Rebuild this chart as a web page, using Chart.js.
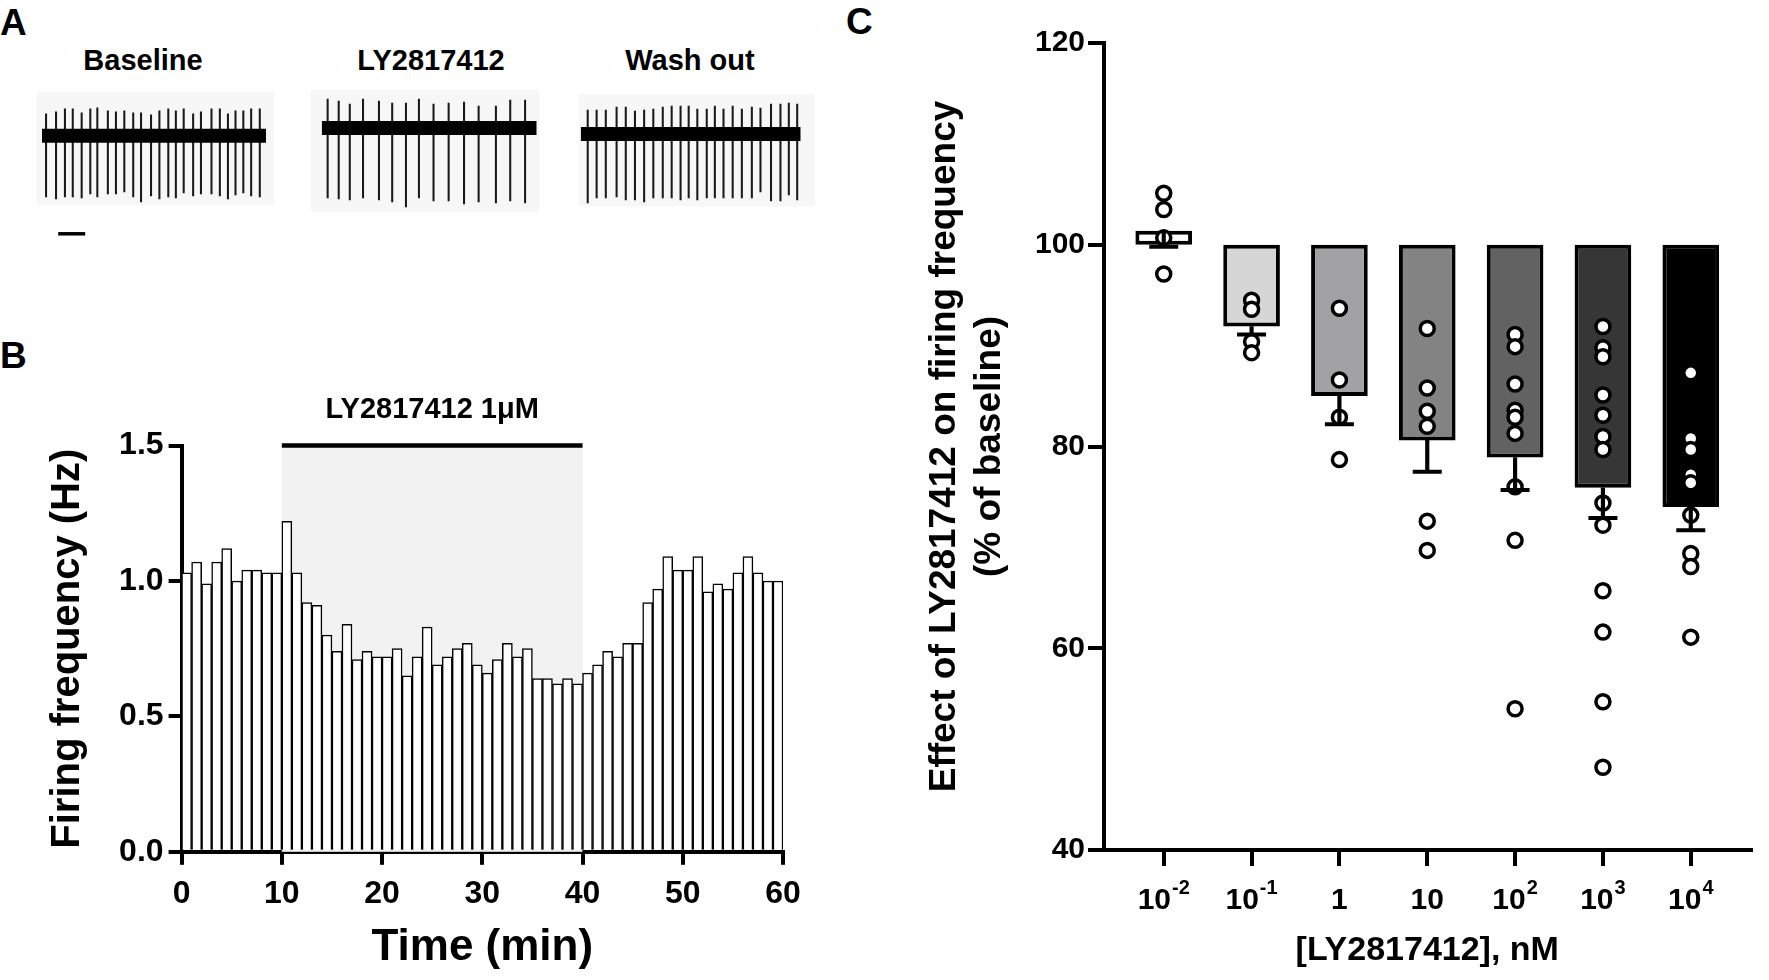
<!DOCTYPE html>
<html>
<head>
<meta charset="utf-8">
<script src="https://cdn.jsdelivr.net/npm/chart.js@4.4.1/dist/chart.umd.min.js"></script>
<style>
  body { margin: 0; width: 1769px; height: 980px; background: #fff; position: relative; overflow: hidden;
         font-family: 'Liberation Sans', Arial, sans-serif; font-weight: bold; color: #000; }
  canvas, .lbl, .ttl, .bg { position: absolute; }
  .lbl { font-size: 37px; line-height: 1; }
  .ttl { font-size: 29px; line-height: 1; white-space: nowrap; transform: translateX(-50%); }
  .bg { background: #f7f7f7; }
</style>
</head>
<body>
<div class="lbl" style="left:0;top:4px">A</div>
<div class="lbl" style="left:0;top:337px">B</div>
<div class="lbl" style="left:846px;top:3px">C</div>

<div class="ttl" style="left:143px;top:46px">Baseline</div>
<div class="ttl" style="left:431px;top:46px">LY2817412</div>
<div class="ttl" style="left:690px;top:46px">Wash out</div>

<div class="bg" style="left:37px;top:92px;width:237px;height:113px"></div>
<div class="bg" style="left:311px;top:90px;width:228px;height:122px"></div>
<div class="bg" style="left:579px;top:94px;width:236px;height:112px"></div>
<canvas id="trBase" width="237" height="150" style="left:37px;top:92px"></canvas>
<canvas id="trDrug" width="228" height="122" style="left:311px;top:90px"></canvas>
<canvas id="trWash" width="236" height="124" style="left:579px;top:94px"></canvas>

<canvas id="histB" width="820" height="650" style="left:0;top:330px"></canvas>
<canvas id="doseC" width="949" height="980" style="left:820px;top:0"></canvas>

<script>
const FONT = "'Liberation Sans', Arial, sans-serif";
Chart.defaults.font.family = FONT;
Chart.defaults.font.weight = 'bold';
Chart.defaults.color = '#000';

// ---- panel A: example spike trains (time in s, spike amplitude above / below the noise band)
const baselineSpikeT = [0.15, 0.52, 0.85, 1.14, 1.47, 1.79, 2.05, 2.44, 2.74, 3.05, 3.38, 3.67, 4.04,
  4.35, 4.68, 4.96, 5.25, 5.60, 5.89, 6.28, 6.59, 6.89, 7.17, 7.46, 7.75, 8.07];
const baselineUp = [22, 24, 27, 27, 23, 27, 28, 25, 24, 25, 23, 23, 21, 25, 27, 25, 27, 22, 24, 27, 27, 22, 25, 25, 27, 27];
const baselineDown = [61, 63, 61, 61, 62, 58, 61, 58, 58, 56, 61, 66, 60, 63, 61, 62, 57, 60, 58, 58, 60, 63, 59, 57, 60, 61];
const baselineLen = 8.3;

const drugSpikeT = [0.22, 0.63, 1.04, 1.53, 2.12, 2.61, 3.12, 3.60, 4.14, 4.70, 5.27, 5.81, 6.45, 6.98, 7.53];
const drugUp = [29, 27, 24, 29, 27, 25, 25, 29, 24, 25, 26, 22, 22, 28, 28];
const drugDown = [70, 71, 72, 70, 72, 74, 79, 70, 73, 73, 76, 74, 75, 73, 75];
const drugLen = 7.96;

const washSpikeT = [0.26, 0.59, 0.93, 1.33, 1.67, 2.01, 2.35, 2.69, 3.04, 3.37, 3.70, 4.00, 4.32, 4.67,
  4.97, 5.29, 5.63, 5.97, 6.34, 6.66, 7.05, 7.40, 7.71, 8.02];
const washUp = [24, 24, 24, 27, 27, 23, 24, 25, 27, 28, 28, 28, 25, 25, 28, 25, 28, 25, 27, 26, 30, 30, 31, 30];
const washDown = [69, 64, 64, 63, 66, 66, 68, 64, 64, 64, 66, 64, 66, 64, 64, 64, 64, 64, 64, 58, 67, 67, 61, 66];
const washLen = 8.15;

const scaleBarStart = 0.6;   // 1 s scale bar
const scaleBarLevel = -98;

// ---- panel B: firing frequency per 1-min bin
const firingHz = [1.03, 1.07, 0.99, 1.07, 1.12, 1.00, 1.04, 1.04, 1.03, 1.03,
  1.22, 1.03, 0.92, 0.91, 0.80, 0.74, 0.84, 0.71, 0.74, 0.72,
  0.72, 0.75, 0.65, 0.72, 0.83, 0.69, 0.72, 0.75, 0.77, 0.69,
  0.66, 0.71, 0.77, 0.72, 0.75, 0.64, 0.64, 0.62, 0.64, 0.62,
  0.66, 0.69, 0.74, 0.72, 0.77, 0.77, 0.92, 0.97, 1.09, 1.04,
  1.04, 1.09, 0.96, 0.99, 0.97, 1.03, 1.09, 1.03, 1.00, 1.00];
const drugStart = 10;
const drugEnd = 40;
const drugLabel = 'LY2817412 1\u03bcM';

// ---- panel C: dose response, % of baseline
const tickBase = ['10', '10', '1', '10', '10', '10', '10'];
const tickExp = ['-2', '-1', '', '', '2', '3', '4'];
const meanPct = [101.4, 91.9, 85.0, 80.6, 78.9, 75.9, 74.0];
const semPct = [1.6, 0.8, 2.8, 3.1, 3.2, 3.0, 2.3];
const barFill = ['#ffffff', '#d6d6d6', '#a2a2a4', '#838383', '#626262', '#363636', '#000000'];
const cellPct = [
  [105.1, 103.5, 100.7, 97.1],
  [94.5, 93.6, 90.4, 89.3],
  [93.7, 86.6, 82.9, 78.7],
  [91.7, 85.8, 83.5, 82.0, 72.6, 69.7],
  [91.1, 89.9, 86.2, 83.6, 82.9, 81.3, 76.0, 70.7, 54.0],
  [91.9, 89.8, 88.9, 85.1, 83.1, 81.0, 79.7, 74.4, 72.2, 65.7, 61.6, 54.7, 48.2],
  [87.3, 80.8, 79.7, 77.2, 76.4, 73.2, 69.4, 68.1, 61.1]
];

function fixedSize(w) { return s => { s.width = w; }; }
function fixedHeight(h) { return s => { s.height = h; }; }

function traceChart(id, spikeT, up, down, len, padding, withScaleBar) {
  const datasets = [
    {
      type: 'bar',
      data: spikeT.map((t, i) => ({ x: t, y: [-down[i], up[i]] })),
      backgroundColor: '#1a1a1a',
      barThickness: 1.4,
      grouped: false,
      order: 2
    },
    {
      type: 'line',
      data: [{ x: 0, y: 0 }, { x: len, y: 0 }],
      borderColor: '#000',
      borderWidth: 14,
      pointRadius: 0,
      order: 1
    }
  ];
  if (withScaleBar) {
    datasets.push({
      type: 'line',
      data: [{ x: scaleBarStart, y: scaleBarLevel }, { x: scaleBarStart + 1, y: scaleBarLevel }],
      borderColor: '#000',
      borderWidth: 3.5,
      pointRadius: 0,
      clip: false,
      order: 0
    });
  }
  new Chart(document.getElementById(id), {
    type: 'bar',
    data: { datasets },
    options: {
      responsive: false,
      animation: false,
      layout: { padding },
      plugins: { legend: { display: false }, tooltip: { enabled: false } },
      scales: {
        x: { type: 'linear', min: 0, max: len, offset: false, display: false },
        y: { min: -80, max: 32, display: false }
      }
    }
  });
}

traceChart('trBase', baselineSpikeT, baselineUp, baselineDown, baselineLen,
  { left: 5, right: 8, top: 11.8, bottom: 26.2 }, true);
traceChart('trDrug', drugSpikeT, drugUp, drugDown, drugLen,
  { left: 10.7, right: 2.3, top: 6, bottom: 4 }, false);
traceChart('trWash', washSpikeT, washUp, washDown, washLen,
  { left: 1.7, right: 14.3, top: 8, bottom: 4 }, false);

// shaded drug period, bar and label above panel B
const drugPeriod = {
  id: 'drugPeriod',
  beforeDatasetsDraw(chart) {
    const { ctx, scales: { x, y } } = chart;
    const x0 = x.getPixelForValue(drugStart), x1 = x.getPixelForValue(drugEnd);
    const top = y.getPixelForValue(y.max), bottom = y.getPixelForValue(0);
    ctx.save();
    ctx.fillStyle = '#f2f2f2';
    ctx.fillRect(x0, top, x1 - x0, bottom - top);
    ctx.restore();
  },
  afterDraw(chart) {
    const { ctx, scales: { x, y } } = chart;
    const x0 = x.getPixelForValue(drugStart), x1 = x.getPixelForValue(drugEnd);
    const top = y.getPixelForValue(y.max);
    ctx.save();
    ctx.strokeStyle = '#000';
    ctx.lineWidth = 4.5;
    ctx.beginPath();
    ctx.moveTo(x0, top);
    ctx.lineTo(x1, top);
    ctx.stroke();
    ctx.fillStyle = '#000';
    ctx.font = 'bold 29px ' + FONT;
    ctx.textAlign = 'center';
    ctx.textBaseline = 'alphabetic';
    ctx.fillText(drugLabel, (x0 + x1) / 2, top - 28);
    ctx.restore();
  }
};

new Chart(document.getElementById('histB'), {
  type: 'bar',
  data: {
    datasets: [{
      data: firingHz.map((v, i) => ({ x: i + 0.5, y: v })),
      backgroundColor: '#fff',
      borderColor: '#000',
      borderWidth: 1.5,
      barPercentage: 1,
      categoryPercentage: 1
    }]
  },
  options: {
    responsive: false,
    animation: false,
    layout: { padding: { left: 0, top: 115.6, right: 37, bottom: 0 } },
    plugins: { legend: { display: false }, tooltip: { enabled: false } },
    scales: {
      x: {
        type: 'linear', min: 0, max: 60, offset: false,
        border: { color: '#000', width: 4 },
        grid: { drawOnChartArea: false, offset: false, color: '#000', lineWidth: 4, tickLength: 13 },
        ticks: { stepSize: 10, padding: 10, font: { size: 32 }, maxRotation: 0 },
        title: { display: true, text: 'Time (min)', font: { size: 44 }, padding: { bottom: 5.6 } },
        afterFit: fixedHeight(128.2)
      },
      y: {
        min: 0, max: 1.5,
        border: { color: '#000', width: 4 },
        grid: { drawOnChartArea: false, color: '#000', lineWidth: 4, tickLength: 13 },
        ticks: { stepSize: 0.5, padding: 5, font: { size: 32 }, callback: v => v.toFixed(1) },
        title: { display: true, text: 'Firing frequency (Hz)', font: { size: 40 }, padding: { top: 44 } },
        afterFit: fixedSize(181.6)
      }
    }
  },
  plugins: [drugPeriod]
});

// concentration labels with superscript exponents
const concTicks = {
  id: 'concTicks',
  afterDraw(chart) {
    const { ctx, scales: { x } } = chart;
    ctx.save();
    ctx.fillStyle = '#000';
    ctx.textBaseline = 'alphabetic';
    ctx.textAlign = 'left';
    tickBase.forEach((b, i) => {
      const e = tickExp[i];
      ctx.font = 'bold 30px ' + FONT;
      const wb = ctx.measureText(b).width;
      ctx.font = 'bold 20px ' + FONT;
      const we = e ? ctx.measureText(e).width + 1 : 0;
      const left = x.getPixelForValue(i) - (wb + we) / 2;
      ctx.font = 'bold 30px ' + FONT;
      ctx.fillText(b, left, x.top + 59);
      if (e) {
        ctx.font = 'bold 20px ' + FONT;
        ctx.fillText(e, left + wb + 1, x.top + 44);
      }
    });
    ctx.restore();
  }
};

const cellPoints = [];
cellPct.forEach((g, i) => g.forEach(v => cellPoints.push({ x: i, y: v })));

new Chart(document.getElementById('doseC'), {
  type: 'bar',
  data: {
    datasets: [
      {
        type: 'bar',
        data: meanPct.map((m, i) => ({ x: i, y: [100, m] })),
        backgroundColor: barFill,
        borderColor: '#000',
        borderWidth: 4,
        borderSkipped: false,
        barPercentage: 0.645,
        categoryPercentage: 1,
        grouped: false,
        order: 4
      },
      {
        type: 'scatter',
        data: cellPoints,
        pointRadius: 7,
        borderWidth: 3.5,
        pointBorderWidth: 3.5,
        pointBackgroundColor: '#fff',
        pointBorderColor: '#000',
        order: 3
      },
      {
        type: 'bar',
        data: meanPct.map((m, i) => ({ x: i, y: [m - semPct[i], m] })),
        backgroundColor: '#000',
        barThickness: 3.5,
        grouped: false,
        order: 2
      },
      {
        type: 'scatter',
        data: meanPct.map((m, i) => ({ x: i, y: m - semPct[i] })),
        pointStyle: 'line',
        pointRadius: 14.5,
        pointBorderWidth: 4,
        borderWidth: 4,
        pointBorderColor: '#000',
        order: 1
      }
    ]
  },
  options: {
    responsive: false,
    animation: false,
    layout: { padding: { left: 0, top: 43, right: 6, bottom: 0 } },
    plugins: { legend: { display: false }, tooltip: { enabled: false } },
    scales: {
      x: {
        type: 'linear', min: -0.68, max: 6.68, offset: false,
        border: { color: '#000', width: 4 },
        grid: { drawOnChartArea: false, offset: false, color: '#000', lineWidth: 4, tickLength: 16 },
        afterBuildTicks: s => { s.ticks = tickBase.map((b, i) => ({ value: i })); },
        ticks: { callback: () => '', autoSkip: false },
        title: { display: true, text: '[LY2817412], nM', font: { size: 34 }, padding: { bottom: 8.6 } },
        afterFit: fixedHeight(130)
      },
      y: {
        min: 40, max: 120,
        border: { color: '#000', width: 4 },
        grid: { drawOnChartArea: false, color: '#000', lineWidth: 4, tickLength: 16 },
        ticks: { stepSize: 20, padding: 3, font: { size: 30 } },
        title: {
          display: true,
          text: ['Effect of LY2817412 on firing frequency', '(% of baseline)'],
          font: { size: 37, lineHeight: 1.22 },
          padding: { top: 102.5 }
        },
        afterFit: fixedSize(284)
      }
    }
  },
  plugins: [concTicks]
});
</script>
</body>
</html>
